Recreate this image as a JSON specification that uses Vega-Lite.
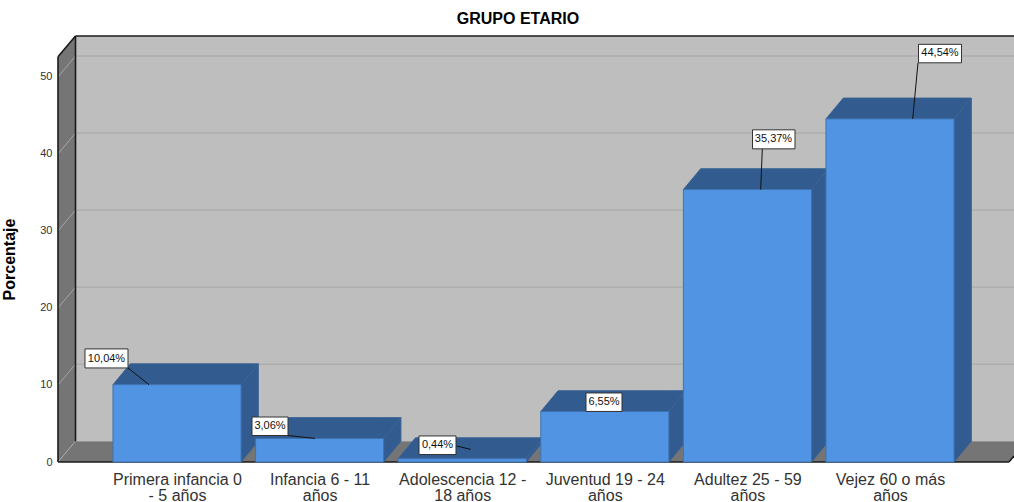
{
"$schema":"https://vega.github.io/schema/vega-lite/v6.json",
"width":956,"height":426,
"autosize":{"type":"none"},
"padding":{"left":58,"top":36,"right":0,"bottom":40},
"background":"white",
"view":{"stroke":null},
"title":{"text":"GRUPO ETARIO","anchor":"middle","dx":-18,"offset":8,"fontSize":16,"fontWeight":"bold","font":"Liberation Sans","color":"#000000"},
"datasets":{
"wall":[{"x":-0.7118,"x2":5.8696,"y":2.7,"y2":55.3}],
"shell":[
{"face":"left","x":-0.8345,"y":0,"y2":52.6},{"face":"left","x":-0.7118,"y":2.7,"y2":55.3},
{"face":"floor","x":-0.8345,"y":0,"y2":0},{"face":"floor","x":-0.7118,"y":0,"y2":2.7},{"face":"floor","x":5.834,"y":0,"y2":2.7},{"face":"floor","x":5.8696,"y":0.78,"y2":2.7}
],
"grid":[
{"x":-0.7118,"x2":5.8696,"y":12.7,"y2":12.7},{"x":-0.7118,"x2":5.8696,"y":22.7,"y2":22.7},{"x":-0.7118,"x2":5.8696,"y":32.7,"y2":32.7},{"x":-0.7118,"x2":5.8696,"y":42.7,"y2":42.7},{"x":-0.7118,"x2":5.8696,"y":52.7,"y2":52.7},
{"x":-0.8345,"x2":-0.7118,"y":0,"y2":2.7},{"x":-0.8345,"x2":-0.7118,"y":10,"y2":12.7},{"x":-0.8345,"x2":-0.7118,"y":20,"y2":22.7},{"x":-0.8345,"x2":-0.7118,"y":30,"y2":32.7},{"x":-0.8345,"x2":-0.7118,"y":40,"y2":42.7},{"x":-0.8345,"x2":-0.7118,"y":50,"y2":52.7}
],
"frame":[
{"x":-0.8345,"x2":-0.8345,"y":0,"y2":52.6},
{"x":-0.8345,"x2":-0.7118,"y":52.6,"y2":55.3},
{"x":-0.7118,"x2":5.8696,"y":55.3,"y2":55.3},
{"x":-0.7118,"x2":-0.7118,"y":2.7,"y2":55.3},
{"x":-0.8345,"x2":5.834,"y":0,"y2":0},
{"x":5.834,"x2":5.8696,"y":0,"y2":0.78}
],
"faces":[
{"face":"t0","x":-0.449,"y":10.04,"y2":10.04},{"face":"t0","x":-0.3277,"y":10.04,"y2":12.74},{"face":"t0","x":0.449,"y":10.04,"y2":12.74},{"face":"t0","x":0.5703,"y":12.74,"y2":12.74},
{"face":"s0","x":0.449,"y":0,"y2":10.04},{"face":"s0","x":0.5703,"y":2.7,"y2":12.74},
{"face":"t1","x":0.551,"y":3.06,"y2":3.06},{"face":"t1","x":0.6723,"y":3.06,"y2":5.76},{"face":"t1","x":1.449,"y":3.06,"y2":5.76},{"face":"t1","x":1.5703,"y":5.76,"y2":5.76},
{"face":"s1","x":1.449,"y":0,"y2":3.06},{"face":"s1","x":1.5703,"y":2.7,"y2":5.76},
{"face":"t2","x":1.551,"y":0.44,"y2":0.44},{"face":"t2","x":1.6723,"y":0.44,"y2":3.14},{"face":"t2","x":2.449,"y":0.44,"y2":3.14},{"face":"t2","x":2.5703,"y":3.14,"y2":3.14},
{"face":"s2","x":2.449,"y":0,"y2":0.44},{"face":"s2","x":2.5703,"y":2.7,"y2":3.14},
{"face":"t3","x":2.551,"y":6.55,"y2":6.55},{"face":"t3","x":2.6723,"y":6.55,"y2":9.25},{"face":"t3","x":3.449,"y":6.55,"y2":9.25},{"face":"t3","x":3.5703,"y":9.25,"y2":9.25},
{"face":"s3","x":3.449,"y":0,"y2":6.55},{"face":"s3","x":3.5703,"y":2.7,"y2":9.25},
{"face":"t4","x":3.551,"y":35.37,"y2":35.37},{"face":"t4","x":3.6723,"y":35.37,"y2":38.07},{"face":"t4","x":4.449,"y":35.37,"y2":38.07},{"face":"t4","x":4.5703,"y":38.07,"y2":38.07},
{"face":"s4","x":4.449,"y":0,"y2":35.37},{"face":"s4","x":4.5703,"y":2.7,"y2":38.07},
{"face":"t5","x":4.551,"y":44.54,"y2":44.54},{"face":"t5","x":4.6723,"y":44.54,"y2":47.24},{"face":"t5","x":5.449,"y":44.54,"y2":47.24},{"face":"t5","x":5.5703,"y":47.24,"y2":47.24},
{"face":"s5","x":5.449,"y":0,"y2":44.54},{"face":"s5","x":5.5703,"y":2.7,"y2":47.24}
],
"bars":[
{"x":-0.449,"x2":0.449,"y":0,"y2":10.04},
{"x":0.551,"x2":1.449,"y":0,"y2":3.06},
{"x":1.551,"x2":2.449,"y":0,"y2":0.44},
{"x":2.551,"x2":3.449,"y":0,"y2":6.55},
{"x":3.551,"x2":4.449,"y":0,"y2":35.37},
{"x":4.551,"x2":5.449,"y":0,"y2":44.54}
],
"leaders":[
{"x":-0.3436,"x2":-0.1964,"y":12.21,"y2":10.04},
{"x":0.7784,"x2":0.9677,"y":3.44,"y2":3.06},
{"x":1.96,"x2":2.0596,"y":2.08,"y2":1.64},
{"x":4.1045,"x2":4.0933,"y":40.65,"y2":35.37},
{"x":5.1964,"x2":5.1592,"y":51.82,"y2":44.54}
],
"boxes":[
{"x":-0.6452,"x2":-0.3436,"y":12.21,"y2":14.68},
{"x":0.5259,"x2":0.7784,"y":3.44,"y2":5.84},
{"x":1.6971,"x2":1.9565,"y":0.97,"y2":3.38},
{"x":2.8682,"x2":3.1206,"y":6.56,"y2":8.96},
{"x":4.0358,"x2":4.3338,"y":40.65,"y2":43.12},
{"x":5.1999,"x2":5.5014,"y":51.82,"y2":54.22}
],
"labels":[
{"x":-0.4944,"y":13.38,"label":"10,04%"},
{"x":0.6522,"y":4.68,"label":"3,06%"},
{"x":1.8268,"y":2.21,"label":"0,44%"},
{"x":2.9944,"y":7.79,"label":"6,55%"},
{"x":4.183,"y":41.88,"label":"35,37%"},
{"x":5.3506,"y":53.05,"label":"44,54%"}
]
},
"encoding":{
"x":{"field":"x","type":"quantitative","scale":{"domain":[-0.8345,5.8696],"nice":false,"zero":false},
"axis":{"values":[0,1,2,3,4,5],"title":null,"grid":false,"ticks":false,"domain":false,"labelFontSize":16,"labelFont":"Liberation Sans","labelColor":"#333333","labelPadding":9,"labelLineHeight":16,"labelOverlap":false,"labelFlush":false,"labelBound":false,"labelBaseline":"top","labelAngle":0,
"labelExpr":"[['Primera infancia 0','- 5 años'],['Infancia 6 - 11','años'],['Adolescencia 12 -','18 años'],['Juventud 19 - 24','años'],['Adultez 25 - 59','años'],['Vejez 60 o más','años']][datum.value]"}},
"y":{"field":"y","type":"quantitative","scale":{"domain":[0,55.3],"nice":false,"zero":false},
"axis":{"values":[0,10,20,30,40,50],"title":"Porcentaje","titleFontSize":16,"titleFontWeight":"bold","titleFont":"Liberation Sans","titleColor":"#000000","titleX":-41,"titleY":223,"grid":false,"ticks":false,"domain":false,"labelFontSize":11,"labelFont":"Liberation Sans","labelColor":"#333333","labelPadding":6}}
},
"layer":[
{"data":{"name":"wall"},"mark":{"type":"rect","fill":"#BEBEBE"},"encoding":{"x2":{"field":"x2"},"y2":{"field":"y2"}}},
{"data":{"name":"shell"},"mark":{"type":"area","fill":"#757575","opacity":1},"encoding":{"y2":{"field":"y2"},"detail":{"field":"face"}}},
{"data":{"name":"grid"},"mark":{"type":"rule","stroke":"#A6A6A6","strokeWidth":1},"encoding":{"x2":{"field":"x2"},"y2":{"field":"y2"}}},
{"data":{"name":"frame"},"mark":{"type":"rule","stroke":"#1A1A1A","strokeWidth":1.6},"encoding":{"x2":{"field":"x2"},"y2":{"field":"y2"}}},
{"data":{"name":"faces"},"mark":{"type":"area","fill":"#325B8F","stroke":"#3A6494","strokeWidth":1,"opacity":1},"encoding":{"y2":{"field":"y2"},"detail":{"field":"face"}}},
{"data":{"name":"bars"},"mark":{"type":"rect","fill":"#5294E4","stroke":"#3F72B0","strokeWidth":1},"encoding":{"x2":{"field":"x2"},"y2":{"field":"y2"}}},
{"data":{"name":"leaders"},"mark":{"type":"rule","stroke":"#111111","strokeWidth":1},"encoding":{"x2":{"field":"x2"},"y2":{"field":"y2"}}},
{"data":{"name":"boxes"},"mark":{"type":"rect","fill":"#FFFFFF","stroke":"#333333","strokeWidth":1},"encoding":{"x2":{"field":"x2"},"y2":{"field":"y2"}}},
{"data":{"name":"labels"},"mark":{"type":"text","font":"Liberation Sans","fontSize":11,"color":"#111111","align":"center","baseline":"middle"},"encoding":{"text":{"field":"label"}}}
]
}
